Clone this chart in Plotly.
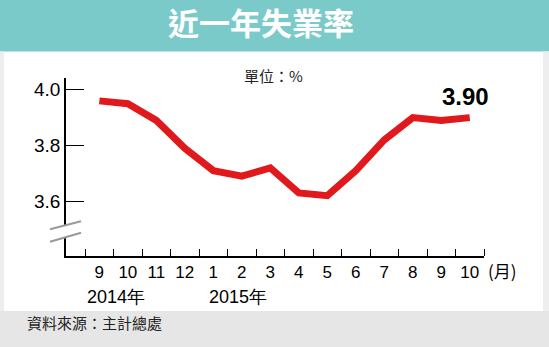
import plotly.graph_objects as go

months = ["9", "10", "11", "12", "1", "2", "3", "4", "5", "6", "7", "8", "9", "10"]
rates = [3.96, 3.95, 3.89, 3.79, 3.71, 3.69, 3.72, 3.63, 3.62, 3.71, 3.82, 3.90, 3.89, 3.90]
year_labels = ["2014年", "2015年"]
year_pos = [0.6, 4.85]
y_ticks = [3.6, 3.8, 4.0]

W, H = 549, 347
L, R, T, B = 66, 65, 78, 91
pw, ph = W - L - R, H - T - B

def px(x):
    return (x - L) / pw

def py(y):
    return (H - B - y) / ph

xs = list(range(len(months)))

fig = go.Figure()
fig.add_trace(go.Scatter(
    x=xs, y=rates, mode="lines",
    line=dict(color="#E1191D", width=7),
    hoverinfo="skip", showlegend=False,
))

num_font = "Liberation Sans, Arial, sans-serif"
cjk_font = "Noto Sans CJK TC, Noto Sans CJK SC, sans-serif"

shapes = [
    # header band
    dict(type="rect", xref="paper", yref="paper", x0=px(0), x1=px(W), y0=py(51.5), y1=py(0),
         fillcolor="#7BCACA", line=dict(width=0), layer="below"),
    # footer band
    dict(type="rect", xref="paper", yref="paper", x0=px(0), x1=px(W), y0=py(H), y1=py(311),
         fillcolor="#E6E6E6", line=dict(width=0), layer="below"),
    # side strips
    dict(type="rect", xref="paper", yref="paper", x0=px(0), x1=px(4), y0=py(311), y1=py(51.5),
         fillcolor="#EEEEEE", line=dict(width=0), layer="below"),
    dict(type="rect", xref="paper", yref="paper", x0=px(543), x1=px(W), y0=py(311), y1=py(51.5),
         fillcolor="#EEEEEE", line=dict(width=0), layer="below"),
    # axis break gap
    dict(type="rect", xref="paper", yref="paper", x0=px(62), x1=px(70), y0=py(237), y1=py(225),
         fillcolor="white", line=dict(width=0), layer="above"),
    dict(type="line", xref="paper", yref="paper", x0=px(50), y0=py(229.3), x1=px(81), y1=py(221.3),
         line=dict(color="#999999", width=2), layer="above"),
    dict(type="line", xref="paper", yref="paper", x0=px(50), y0=py(241.7), x1=px(81), y1=py(232.7),
         line=dict(color="#999999", width=2), layer="above"),
]

annotations = [
    dict(text="<b>近一年失業率</b>", xref="paper", yref="paper", x=px(261), y=py(22),
         showarrow=False, font=dict(family=cjk_font, size=31, color="white"),
         xanchor="center", yanchor="middle"),
    dict(text="單位：%", xref="paper", yref="paper", x=px(273.5), y=py(75),
         showarrow=False, font=dict(family=cjk_font, size=15, color="#222222"),
         xanchor="center", yanchor="middle"),
    dict(text="<b>%.2f</b>" % rates[-1], xref="x", yref="y", x=xs[-1], y=rates[-1],
         xshift=-4, yshift=21, showarrow=False,
         font=dict(family=num_font, size=24, color="black"), xanchor="center", yanchor="middle"),
    dict(text="(月)", xref="paper", yref="paper", x=px(486), y=py(270.7),
         showarrow=False, font=dict(family=cjk_font, size=17, color="black"),
         xanchor="left", yanchor="middle"),
    dict(text="資料來源：主計總處", xref="paper", yref="paper", x=px(25), y=py(322.5),
         showarrow=False, font=dict(family=cjk_font, size=15, color="#222222"),
         xanchor="left", yanchor="middle"),
]
for lab, pos in zip(year_labels, year_pos):
    annotations.append(dict(text=lab, xref="x", yref="paper", x=pos, y=py(297),
                            showarrow=False, font=dict(family=num_font, size=18, color="black"),
                            xanchor="center", yanchor="middle"))

fig.update_layout(
    width=W, height=H,
    margin=dict(l=L, r=R, t=T, b=B),
    paper_bgcolor="white", plot_bgcolor="white",
    shapes=shapes, annotations=annotations,
    xaxis=dict(
        range=[-1.17, len(months) - 0.5],
        tickmode="array", tickvals=xs, ticktext=months,
        ticks="", showline=True, linecolor="black", linewidth=1.5,
        showgrid=False, zeroline=False,
        tickfont=dict(family=num_font, size=17, color="black"),
        minor=dict(tickmode="array", tickvals=[i - 0.5 for i in range(len(months) + 1)],
                   ticks="inside", ticklen=7, tickwidth=1.2, tickcolor="black", showgrid=False),
    ),
    yaxis=dict(
        range=[3.404, 4.042],
        tickmode="array", tickvals=y_ticks, ticktext=["%.1f" % v for v in y_ticks],
        ticks="inside", ticklen=18, tickwidth=1.3, tickcolor="black",
        showline=True, linecolor="black", linewidth=1.5,
        showgrid=False, zeroline=False,
        tickfont=dict(family=num_font, size=19, color="black"),
    ),
)

fig.write_html("out.html")
